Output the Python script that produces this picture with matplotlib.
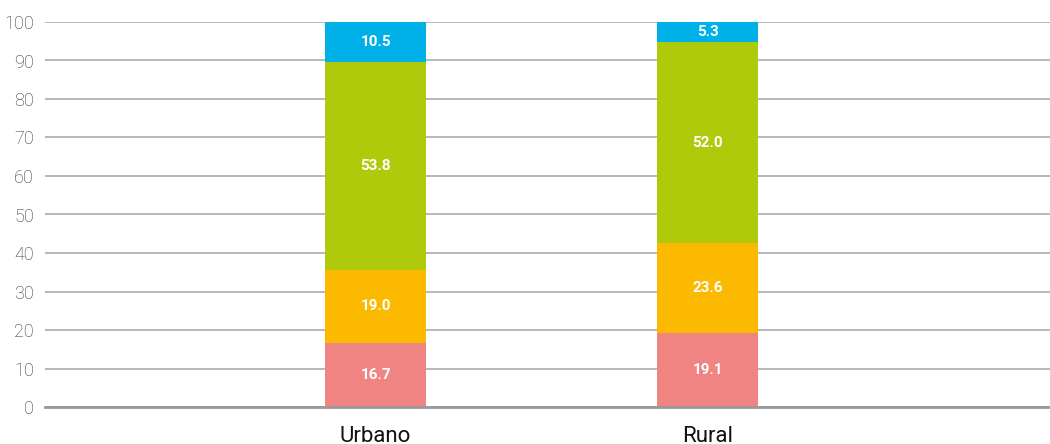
import matplotlib.pyplot as plt
import numpy as np

categories = ["Urbano", "Rural"]
seg1 = [16.7, 19.1]
seg2 = [19.0, 23.6]
seg3 = [53.8, 52.0]
seg4 = [10.5, 5.3]
colors = ["#F08482", "#FBB900", "#AFCA0B", "#00B0E8"]
yticks = list(range(0, 101, 10))

plt.rcParams['font.family'] = ['Roboto', 'DejaVu Sans']

fig = plt.figure(figsize=(10.5, 4.44), dpi=100)
ax = fig.add_axes([45/1050, 37/444, 1005/1050, 385/444])

x = np.arange(len(categories))
width = 0.304
bottom = np.zeros(len(categories))
for vals, c in zip([seg1, seg2, seg3, seg4], colors):
    ax.bar(x, vals, width, bottom=bottom, color=c, zorder=3)
    for xi, b, v in zip(x, bottom, vals):
        ax.text(xi, b + v / 2, f"{v:.1f}", ha="center", va="center",
                color="white", fontsize=11, fontweight="bold", zorder=4)
    bottom += np.array(vals)

ax.set_xlim(-0.995, 2.03)
ax.set_ylim(0, 100)
ax.set_yticks(yticks)
ax.set_xticks(x)
ax.set_xticklabels(categories, fontsize=16)
ax.tick_params(axis='x', length=0, pad=14, colors="#111111")
ax.tick_params(axis='y', length=0, pad=8, labelsize=13, colors="#333333")
for lbl in ax.get_yticklabels():
    lbl.set_fontweight("light")
ax.grid(axis='y', color="#ABABAB", linewidth=1.2, zorder=0)
for s in ["left", "right", "top"]:
    ax.spines[s].set_visible(False)
ax.spines["bottom"].set_color("#999999")
ax.spines["bottom"].set_linewidth(2)
ax.spines["bottom"].set_zorder(5)

fig.savefig("out.png", dpi=100)
